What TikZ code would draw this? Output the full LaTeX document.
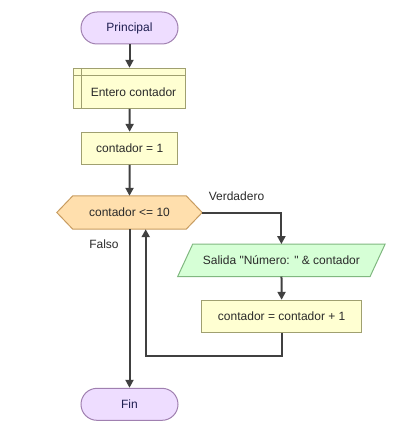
\documentclass[tikz,border=0pt]{standalone}
\usepackage{fontspec}
\setmainfont{Liberation Sans}
\newfontfamily\rawfont{Liberation Sans}
\usetikzlibrary{arrows.meta,calc}
\definecolor{termfill}{HTML}{EEDDFF}
\definecolor{termline}{HTML}{A080B0}
\definecolor{termtext}{HTML}{1E1E50}
\definecolor{procfill}{HTML}{FFFFD2}
\definecolor{procline}{HTML}{A0A070}
\definecolor{decfill}{HTML}{FFDFAD}
\definecolor{decline}{HTML}{C89C60}
\definecolor{iofill}{HTML}{D6FFD6}
\definecolor{ioline}{HTML}{80B880}
\definecolor{connc}{HTML}{404040}
\definecolor{txtc}{HTML}{2A2A2A}
\begin{document}
\begin{tikzpicture}[x=1pt,y=-1pt,
  every node/.style={font=\rawfont\fontsize{12}{14}\selectfont, text=txtc, inner sep=0pt},
  term/.style={draw=termline, fill=termfill, line width=1pt, rounded corners=16pt, minimum width=97pt, minimum height=32pt, text=termtext},
  proc/.style={draw=procline, fill=procfill, line width=1pt, minimum height=32pt},
  shapebox/.style={draw=none, minimum height=33pt},
  conn/.style={draw=connc, line width=2pt, -{Triangle[length=8pt,width=8pt]}},
  lbl/.style={text=txtc}]
\useasboundingbox (0,0) rectangle (416,441);
% nodes
\node[term] (ini) at (129.5,28) {Principal};
\node[proc, minimum width=112pt, minimum height=40pt] (decl) at (129.5,88.3) {};
\draw[procline, line width=1pt] ($(decl.north west)+(0,8)$) -- ($(decl.north east)+(0,8)$);
\draw[procline, line width=1pt] ($(decl.north west)+(8,0)$) -- ($(decl.south west)+(8,0)$);
\node (decltxt) at (133.5,92.5) {Entero contador};
\node[proc, minimum width=96pt] (asig) at (129.7,148.3) {contador = 1};
\node[shapebox, minimum width=145pt] (dec) at (129.5,212.5) {};
\draw[draw=decline, fill=decfill, line width=1pt] (dec.west) -- ($(dec.north west)+(16,0)$) -- ($(dec.north east)+(-16,0)$) -- (dec.east) -- ($(dec.south east)+(-16,0)$) -- ($(dec.south west)+(16,0)$) -- cycle;
\node (dectxt) at (dec.center) {contador <= 10};
\node[shapebox, minimum width=207pt, minimum height=32pt] (sal) at (281.4,260.3) {};
\draw[draw=ioline, fill=iofill, line width=1pt] ($(sal.north west)+(15,0)$) -- (sal.north east) -- ($(sal.south east)+(-15,0)$) -- (sal.south west) -- cycle;
\node (saltxt) at (sal.center) {Salida "Número: " \& contador};
\node[proc, minimum width=160pt] (inc) at (281.7,316.3) {contador = contador + 1};
\node[term] (fin) at (129.5,404.3) {Fin};
\node[lbl] (vlab) at (236.5,196.5) {Verdadero};
\node[lbl] (flab) at (104,244.5) {Falso};
% connectors
\draw[conn] (ini) -- (decl);
\draw[conn] (decl) -- (asig);
\draw[conn] (asig) -- (dec.north);
\draw[conn] (dec.east) -| (sal.north);
\draw[conn] (sal) -- (inc);
\coordinate (lpa) at (281.7,356);
\coordinate (lpb) at (145.7,356);
\draw[conn] (inc.south) -- (lpa) -- (lpb) -- (lpb |- dec.south);
\draw[conn] (dec.south) -- (fin.north);
\end{tikzpicture}
\end{document}
